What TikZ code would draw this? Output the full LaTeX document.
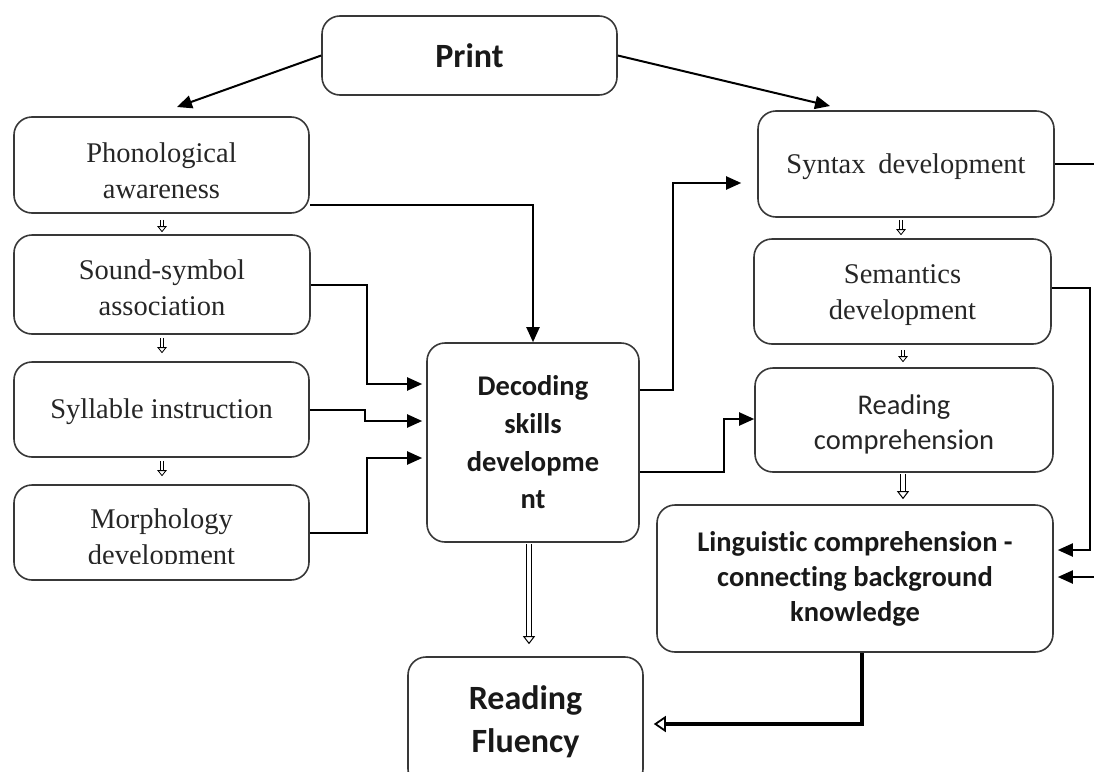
\documentclass[tikz,border=0pt]{standalone}
\usepackage{fontspec}
\setmainfont{Liberation Serif}
\newfontfamily\calfont[Ligatures={NoCommon}]{Carlito}
\usetikzlibrary{arrows.meta}
\begin{document}
\begin{tikzpicture}[x=1pt,y=-1pt,
  box/.style={draw=black!78, line width=1.6pt, rounded corners=18pt, inner sep=0pt},
  ser/.style={font=\fontsize{28.5}{36}\selectfont, align=center, text=black!85},
  sreg/.style={font=\calfont\fontsize{28.5}{35}\selectfont, align=center, text=black!85},
  sb/.style={font=\calfont\bfseries\fontsize{28.5}{35}\selectfont, align=center, text=black!90},
  arr/.style={line width=2pt, -{Triangle[length=15pt,width=13pt]}},
  hol/.style={line width=0.8pt, double=white, double distance=2.4pt, -{Triangle[open,length=6pt,width=9.5pt,line width=0.8pt]}},
  holbig/.style={line width=1pt, double=white, double distance=3.6pt, -{Triangle[open,length=8pt,width=12pt,line width=1pt]}}
]
\useasboundingbox (0,0) rectangle (1094,771);
% boxes
\node[box, minimum width=295pt, minimum height=79pt, font=\calfont\bfseries\fontsize{34}{40}\selectfont, text=black!90] (print) at (469.5,55.5) {Print};
\node[box, minimum width=295pt, minimum height=96pt] (phono) at (161.5,165) {};
\node[ser] (phonotxt) at ([yshift=-5.5pt]phono.center) {Phonological\\awareness};
\node[box, minimum width=296pt, minimum height=99pt] (sound) at (162,284.5) {};
\node[ser] (soundtxt) at ([yshift=-3pt]sound.center) {Sound-symbol\\association};
\node[box, minimum width=295pt, minimum height=95pt] (syll) at (161.5,409.5) {};
\node[ser] (sylltxt) at ([yshift=-2pt]syll.center) {Syllable instruction};
\node[box, minimum width=295pt, minimum height=95pt] (morph) at (161.5,532.5) {};
\begin{scope}
  \clip (14,480) rectangle (309,563);
  \node[ser] (morphtxt) at (161.5,540) {Morphology\\development};
\end{scope}
\node[box, sb, minimum width=212pt, minimum height=199pt, font=\calfont\bfseries\fontsize{28.5}{37.7}\selectfont] (dec) at (533,442.5) {Decoding\\skills\\developme\\nt};
\node[box, minimum width=296pt, minimum height=106pt] (syn) at (906,164) {};
\node[ser] (syntxt) at ([yshift=-3pt]syn.center) {Syntax\hspace{0.45em}development};
\node[box, minimum width=297pt, minimum height=105pt] (sem) at (902.5,291.5) {};
\node[ser] (semtxt) at ([yshift=-3.5pt]sem.center) {Semantics\\development};
\node[box, minimum width=298pt, minimum height=104pt] (rc) at (904,420) {};
\node[sreg] (rctxt) at ([yshift=-4pt]rc.center) {Reading\\comprehension};
\node[box, sb, minimum width=396pt, minimum height=147pt] (ling) at (855,578.5) {Linguistic comprehension -\\connecting background\\knowledge};
\node[box, minimum width=235pt, minimum height=130pt] (flu) at (525.5,722) {};
\node[font=\calfont\bfseries\fontsize{34}{43}\selectfont, align=center, text=black!90] (flutxt) at (525.5,722) {Reading\\Fluency};
% free coordinates
\coordinate (pa) at (177,107);
\coordinate (pb) at (830,106);
\coordinate (c1) at (533,205);
\coordinate (c2) at (367,384);
\coordinate (c3) at (365,421);
\coordinate (c4) at (367,458);
\coordinate (c5) at (673,183);
\coordinate (c6) at (724,419);
\coordinate (edge1) at (1094,164);
\coordinate (c7) at (1090,550);
\coordinate (edge2) at (1094,577);
\coordinate (c8) at (862,724);
\coordinate (lx) at (162,0);
\coordinate (rx) at (901,0);
\coordinate (dx) at (529,0);
\coordinate (lgx) at (903,0);
% connectors
\draw[arr] (print.west) -- (pa);
\draw[arr] (print.east) -- (pb);
\draw[arr] (phono.east |- c1) -- (c1) -- (dec.north);
\draw[arr, shorten >=4pt] (sound.east) -| (c2) -- (c2 -| dec.west);
\draw[arr, shorten >=4pt] (syll.east) -| (c3) -- (c3 -| dec.west);
\draw[arr, shorten >=4pt] (morph.east) -| (c4) -- (c4 -| dec.west);
\draw[arr, shorten >=16pt] (dec.east |- 0,390) -| (c5) -- (c5 -| syn.west);
\draw[arr] (dec.east |- 0,472) -| (c6) -- (c6 -| rc.west);
\draw[line width=2pt] (syn.east) -- (edge1);
\draw[arr, shorten >=4pt] (sem.east |- 0,288) -| (c7) -- (c7 -| ling.east);
\draw[arr, shorten >=4pt] (edge2) -- (edge2 -| ling.east);
\draw[line width=4.5pt, -{Triangle[open,length=12pt,width=16pt,line width=1.8pt]}, shorten >=10pt] (c8 |- ling.south) -- (c8) -- (c8 -| flu.east);
% hollow arrows
\draw[hol, shorten <=6pt, shorten >=2pt] (lx |- phono.south) -- (lx |- sound.north);
\draw[hol, shorten <=3pt, shorten >=8pt] (lx |- sound.south) -- (lx |- syll.north);
\draw[hol, shorten <=3pt, shorten >=8pt] (lx |- syll.south) -- (lx |- morph.north);
\draw[hol, shorten <=2pt, shorten >=3pt] (rx |- syn.south) -- (rx |- sem.north);
\draw[hol, shorten <=5pt, shorten >=5pt] (lgx |- sem.south) -- (lgx |- rc.north);
\draw[holbig, shorten <=1pt, shorten >=12pt] (dx |- dec.south) -- (dx |- flu.north);
\draw[holbig, shorten <=1pt, shorten >=5pt] (lgx |- rc.south) -- (lgx |- ling.north);
\end{tikzpicture}
\end{document}
